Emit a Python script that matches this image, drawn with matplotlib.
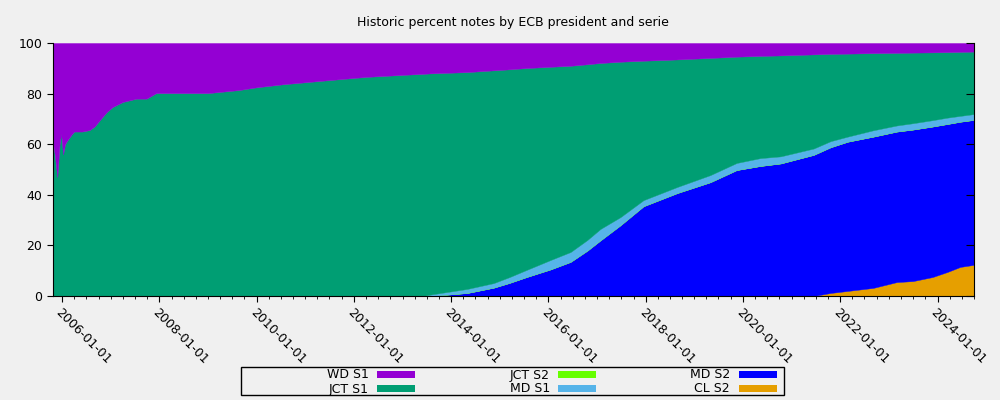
import numpy as np
import matplotlib
matplotlib.use('Agg')
import matplotlib.pyplot as plt
import matplotlib.dates as mdates
from matplotlib.patches import Rectangle

# sample dates
dates = np.array([
    '2005-10-20', '2005-11-08', '2005-11-25', '2005-12-12', '2005-12-24',
    '2006-01-08', '2006-01-22', '2006-02-15', '2006-03-15', '2006-04-01',
    '2006-06-01', '2006-07-26', '2006-09-01', '2006-10-12', '2006-12-01',
    '2007-01-15', '2007-04-01', '2007-07-12', '2007-09-26', '2007-12-08',
    '2009-01-01', '2009-08-20', '2010-01-01', '2010-07-20', '2011-06-01',
    '2012-04-01', '2013-01-01', '2013-06-01', '2013-08-01', '2014-05-01',
    '2014-11-15', '2015-03-15', '2015-07-20', '2016-01-15', '2016-06-15',
    '2016-10-20', '2017-01-25', '2017-06-25', '2017-12-15', '2018-08-25',
    '2019-05-01', '2019-11-15', '2020-05-10', '2020-10-10', '2021-06-15',
    '2021-10-20', '2022-02-25', '2022-09-05', '2023-03-01', '2023-07-01',
    '2023-11-25', '2024-03-15', '2024-06-20', '2024-09-28'], dtype='datetime64[D]')

# percent of notes per series
wd_s1 = [38, 45, 53, 40, 36, 44, 40, 38, 36, 35,
         35, 34.4, 33, 30.4, 27.3, 25.3, 23.3, 22, 22, 19.8,
         19.8, 18.6, 17.5, 16.3, 14.8, 13.4, 12.6, 12.2, 12.0, 11.5,
         10.8, 10.4, 9.9, 9.4, 9.0, 8.4, 7.9, 7.4, 7.0, 6.5,
         5.9, 5.4, 5.1, 4.9, 4.5, 4.3, 4.2, 4.0, 3.9, 3.8,
         3.7, 3.6, 3.5, 3.4]
jct_s1 = [62, 55, 47, 60, 64, 56, 60, 62, 64, 65,
          65, 65.6, 67, 69.6, 72.7, 74.7, 76.7, 78, 78, 80.2,
          80.2, 81.4, 82.5, 83.7, 85.2, 86.6, 87.4, 87.8, 87.4, 85.7,
          84.1, 82.1, 79.8, 76.4, 73.6, 69.4, 65.6, 61.4, 55.1, 50.4,
          46.3, 42.0, 40.4, 39.9, 37.2, 34.5, 32.8, 30.5, 28.7, 27.9,
          26.8, 25.9, 25.3, 24.7]
jct_s2 = [0] * 54
md_s1 = [0] * 28 + [0.6, 1.6,
         1.8, 2.3, 2.8, 3.7, 3.9, 4.2, 4.5, 3.2, 2.4, 2.4,
         2.8, 2.8, 3.1, 2.8, 2.5, 2.4, 2.0, 2.5, 2.4, 2.5,
         2.5, 2.5, 2.3, 2.3]
md_s2 = [0] * 29 + [1.2,
         3.3, 5.2, 7.5, 10.5, 13.5, 18.0, 22.0, 28.0, 35.5, 40.7,
         45.0, 49.8, 51.4, 52.4, 55.8, 57.6, 59.0, 59.8, 59.5, 59.9,
         59.5, 58.5, 57.4, 57.3]
cl_s2 = [0] * 45 + [1.2, 2.0, 3.2, 5.5, 5.9, 7.5, 9.5, 11.5, 12.3]

bg = '#f0f0f0'
plt.rcParams['font.family'] = 'DejaVu Sans'
fig = plt.figure(figsize=(10, 4), dpi=100, facecolor=bg)
ax = fig.add_axes([0.0525, 0.26, 0.9215, 0.6325], facecolor=bg)

x = mdates.date2num(dates.astype('datetime64[s]').astype(object))
colors = ['#e69f00', '#0000ff', '#66ff00', '#56b4e9', '#009e73', '#9400d3']
polys = ax.stackplot(x, cl_s2, md_s2, jct_s2, md_s1, jct_s1, wd_s1,
                     colors=colors, linewidth=0.3)
for p, c in zip(polys, colors):
    p.set_edgecolor(c)

ax.set_xlim(mdates.datestr2num('2005-10-20'), mdates.datestr2num('2024-10-01'))
ax.set_ylim(0, 100)
ax.set_title('Historic percent notes by ECB president and serie', fontsize=9, pad=12)

ax.xaxis.set_major_locator(mdates.YearLocator(2))
ax.xaxis.set_major_formatter(mdates.DateFormatter('%Y-%m-%d'))
ax.xaxis.set_minor_locator(mdates.MonthLocator(bymonth=[1, 4, 7, 10]))
ax.set_yticks([0, 20, 40, 60, 80, 100])
ax.tick_params(axis='x', which='major', length=4, labelsize=9, direction='out')
ax.tick_params(axis='x', which='minor', length=2, direction='out')
ax.tick_params(axis='y', length=4, labelsize=9, right=True, direction='out')
for lbl in ax.get_xticklabels():
    lbl.set_rotation(-45)
    lbl.set_ha('left')
    lbl.set_va('top')
    lbl.set_rotation_mode('anchor')
for t in ax.yaxis.get_major_ticks():
    t.tick2line.set_marker(matplotlib.lines.TICKLEFT)
    t.tick2line.set_markersize(6)
ax.spines['top'].set_visible(False)

# legend drawn by hand: label right-aligned before a wide swatch (gnuplot style)
names = ['WD S1', 'JCT S1', 'JCT S2', 'MD S1', 'MD S2', 'CL S2']
order = [5, 4, 2, 3, 1, 0]
W, H = 1000.0, 400.0
fig.patches.append(Rectangle((241 / W, 1 - 395 / H), 543 / W, 28 / H, transform=fig.transFigure,
                             facecolor=bg, edgecolor='black', linewidth=1))
col_text_right = [369, 550, 730]
col_swatch_left = [377, 558, 739]
row_y = [374, 388]
for k, (name, idx) in enumerate(zip(names, order)):
    c, r = divmod(k, 2)
    yc = 1 - row_y[r] / H
    fig.text(col_text_right[c] / W, yc - 1 / H, name, ha='right', va='center', fontsize=9)
    fig.patches.append(Rectangle((col_swatch_left[c] / W, yc - 3.5 / H), 38 / W, 7 / H,
                                 transform=fig.transFigure, facecolor=colors[idx],
                                 edgecolor='none'))

fig.savefig('out.png', dpi=100, facecolor=bg)
